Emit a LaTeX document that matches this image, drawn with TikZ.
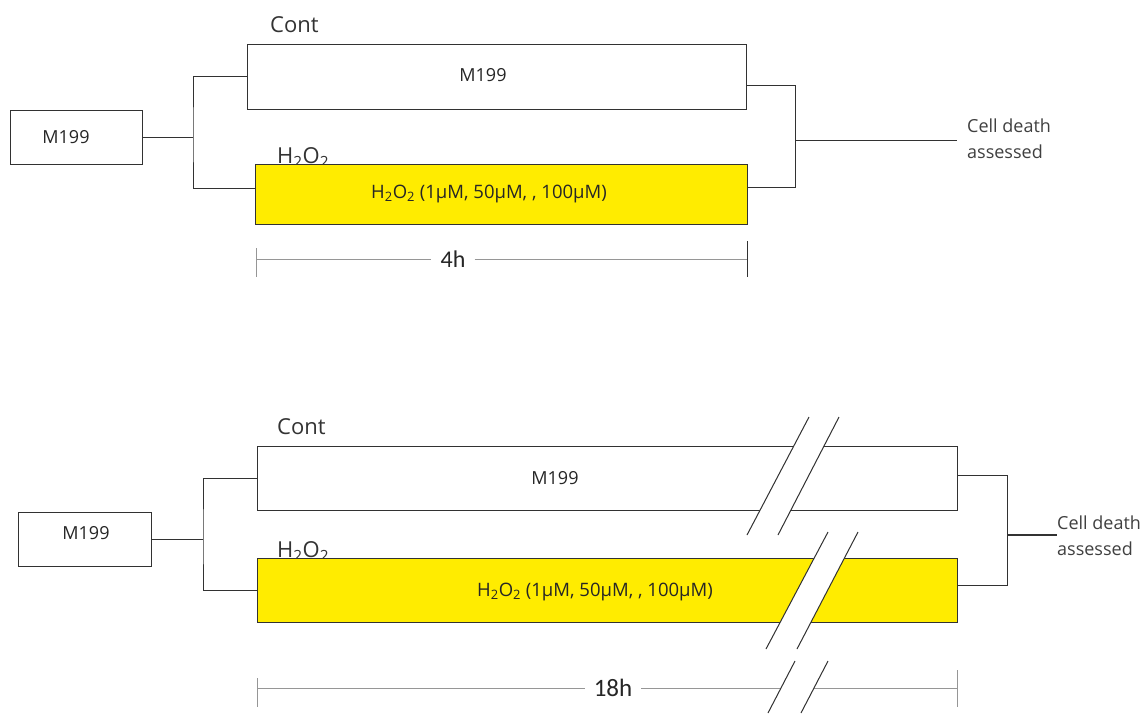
\documentclass[tikz,border=0pt]{standalone}
\usepackage{fontspec}
\setmainfont{Open Sans}
\newfontfamily\calfont{Carlito}
\definecolor{linec}{RGB}{50,50,50}
\definecolor{yelc}{RGB}{255,236,0}
\definecolor{tlc}{RGB}{150,150,150}
\begin{document}
\begin{tikzpicture}[x=1pt,y=-1pt,
  box/.style={draw=linec, line width=1pt, inner sep=0pt, fill=white},
  ybox/.style={draw=linec, line width=1pt, inner sep=0pt, fill=yelc},
  conn/.style={draw=linec, line width=0.9pt},
  tl/.style={draw=tlc, line width=1pt},
  brk/.style={draw=linec, line width=1pt},
  gapfill/.style={fill=white, draw=none},
  boxtxt/.style={font=\fontsize{18}{20}\selectfont, text=black!85, inner sep=0pt},
  ytxt/.style={font=\fontsize{18.5}{20}\selectfont, text=black!85, inner sep=0pt},
  lbl/.style={font=\fontsize{22}{24}\selectfont, text=black!80, inner sep=0pt},
  cd/.style={font=\fontsize{18}{26}\selectfont, text=black!75, align=left, inner sep=0pt},
  hrs/.style={font=\calfont\fontsize{24}{26}\selectfont, text=black!85, inner xsep=9pt}]
\useasboundingbox (0,0) rectangle (1145,713);
\fill[white] (0,0) rectangle (1145,713);

% ---------------- top panel ----------------
\node[lbl, anchor=base west] (cont1l) at (270,32) {Cont};
\node[lbl, anchor=base west] (h2o1l) at (277,163) {H\textsubscript{2}O\textsubscript{2}};
\node[box, minimum width=132pt, minimum height=54pt] (m1) at (76,137) {};
\node[boxtxt] (m1t) at (66,137) {M199};
\node[box, minimum width=499pt, minimum height=65pt] (cont1) at (496.5,76.5) {};
\node[boxtxt] (cont1t) at (483,75) {M199};
\node[ybox, minimum width=492pt, minimum height=60pt] (yel1) at (501,194) {};
\node[ytxt] (yel1t) at (489,194) {H\textsubscript{2}O\textsubscript{2} (1µM, 50µM, , 100µM)};

\coordinate (j1) at (193,137);
\draw[conn] (m1.east) -- (j1);
\draw[conn] (cont1.west) -| (j1) |- ([yshift=6pt]yel1.west);

\coordinate (j2) at (795,140);
\coordinate (out1) at (957,140);
\draw[conn] ([yshift=-9pt]cont1.east) -| (j2) |- ([yshift=7pt]yel1.east);
\draw[conn] (j2) -- (out1);
\node[cd, anchor=west] (cd1) at (967,139) {Cell death\\assessed};

% timeline 4h
\coordinate (t1s) at (256,259);
\coordinate (t1e) at (747,259);
\node[hrs] (h4) at (453,259) {4h};
\draw[tl] (t1s) -- (h4);
\draw[tl] (h4) -- (t1e);
\draw[tl] (256,248) -- (256,277);
\draw[draw=linec, line width=1pt] (747,241) -- (747,277);

% ---------------- bottom panel ----------------
\node[lbl, anchor=base west] (cont2l) at (277,434) {Cont};
\node[lbl, anchor=base west] (h2o2l) at (277,557) {H\textsubscript{2}O\textsubscript{2}};
\node[box, minimum width=133pt, minimum height=54pt] (m2) at (84.5,539) {};
\node[boxtxt] (m2t) at (86,533) {M199};
\node[box, minimum width=700pt, minimum height=64pt] (cont2) at (607,478) {};
\node[boxtxt] (cont2t) at (555,478) {M199};
\node[ybox, minimum width=700pt, minimum height=64pt] (yel2) at (607,590) {};
\node[ytxt] (yel2t) at (595,592) {H\textsubscript{2}O\textsubscript{2} (1µM, 50µM, , 100µM)};

\coordinate (j3) at (203,539);
\draw[conn] (m2.east) -- (j3);
\draw[conn] (cont2.west) -| (j3) |- (yel2.west);

\coordinate (j4) at (1007,535);
\draw[conn] ([yshift=3pt]cont2.east) -| (j4) |- ([yshift=5pt]yel2.east);
\node[cd, anchor=west] (cd2) at (1057,536) {Cell death\\assessed};
\draw[draw=linec, line width=2pt] (j4) -- (cd2.west |- j4);

% timeline 18h
\coordinate (t2s) at (257,688);
\coordinate (t2e) at (957,688);
\node[hrs, font=\calfont\fontsize{25}{27}\selectfont] (h18) at (613,688) {18h};
\draw[tl] (t2s) -- (h18);
\draw[tl] (h18) -- (t2e);
\draw[tl] (257,678) -- (257,707);
\draw[tl] (957,670) -- (957,707);

% break marks
\fill[gapfill] (809,417) -- (839,417) -- (778,535) -- (747,535) -- cycle;
\draw[brk] (809,417) -- (747,535);
\draw[brk] (839,417) -- (778,535);
\fill[gapfill] (828,532) -- (858,532) -- (797,649) -- (766,649) -- cycle;
\draw[brk] (828,532) -- (766,649);
\draw[brk] (858,532) -- (797,649);
\fill[gapfill] (795,661) -- (828,661) -- (801,713) -- (768,713) -- cycle;
\draw[brk] (795,661) -- (768,713);
\draw[brk] (828,661) -- (801,713);
\end{tikzpicture}
\end{document}
